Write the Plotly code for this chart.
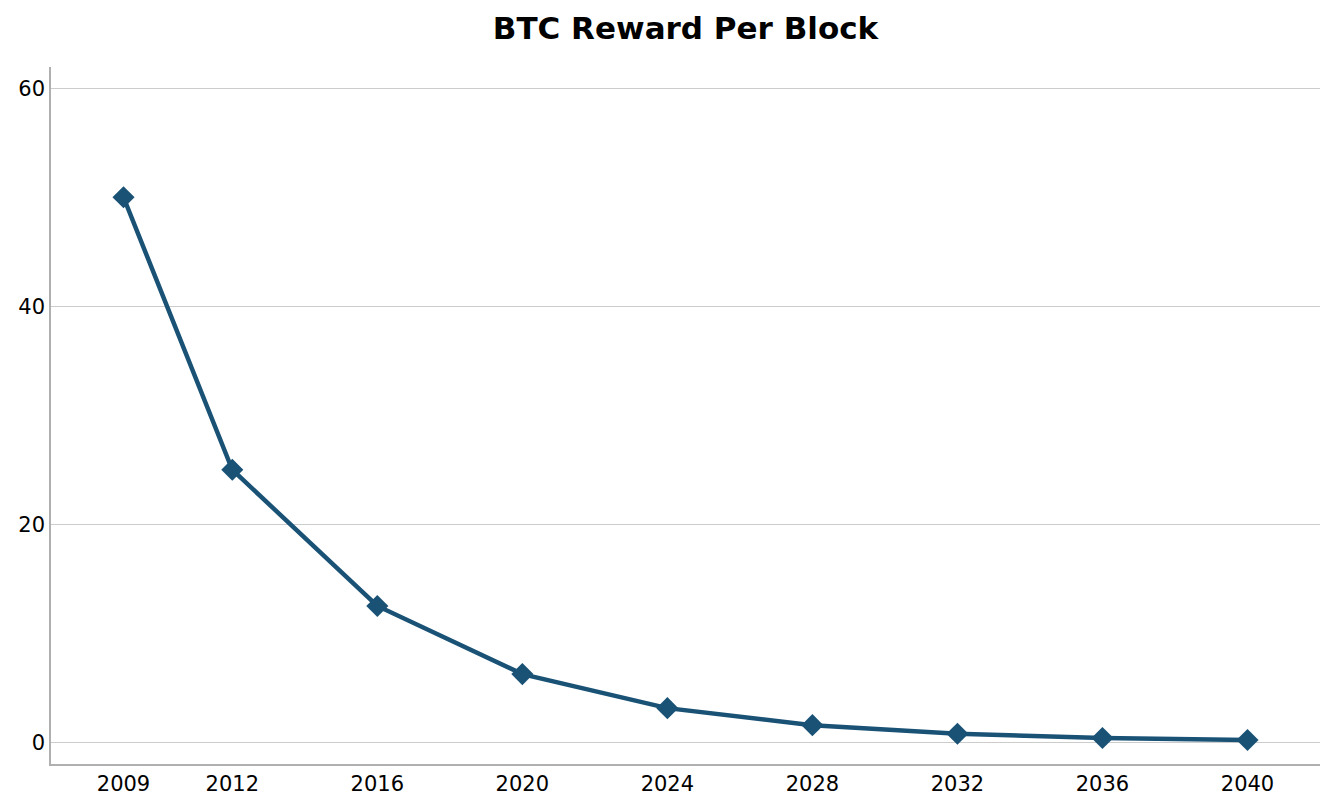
import plotly.graph_objects as go

years = [2009, 2012, 2016, 2020, 2024, 2028, 2032, 2036, 2040]
reward = [50, 25, 12.5, 6.25, 3.125, 1.5625, 0.78125, 0.390625, 0.1953125]
x_ticks = [2009, 2012, 2016, 2020, 2024, 2028, 2032, 2036, 2040]
y_ticks = [0, 20, 40, 60]

fig = go.Figure(go.Scatter(
    x=years, y=reward, mode="lines+markers",
    line=dict(color="#1a5276", width=4.5),
    marker=dict(symbol="diamond", size=17, color="#1a5276"),
))

font = "DejaVu Sans"
fig.update_layout(
    width=1335, height=809,
    margin=dict(l=51, r=15, t=67, b=45),
    plot_bgcolor="white", paper_bgcolor="white",
    showlegend=False,
    title=dict(text="<b>BTC Reward Per Block</b>", x=0.5, xref="paper", xanchor="center",
               y=1 - 28 / 809, yanchor="middle",
               font=dict(family=font, size=31, color="black")),
    font=dict(family=font, size=21, color="black"),
)
fig.update_xaxes(range=[2007.0, 2042.0], tickvals=x_ticks, ticktext=[str(t) for t in x_ticks],
                 showgrid=False, zeroline=False, showline=True, linecolor="#b0b0b0",
                 linewidth=1.5, ticks="", ticklen=0,
                 tickfont=dict(family=font, size=21, color="black"))
fig.update_yaxes(range=[-2.0, 61.95], tickvals=y_ticks, showgrid=True, gridcolor="#cccccc",
                 gridwidth=1.2, zeroline=False, showline=True, linecolor="#b0b0b0",
                 linewidth=1.5, ticks="", ticklen=0,
                 tickfont=dict(family=font, size=21, color="black"))

fig.write_html("out.html", config={"displayModeBar": False},
               post_script="document.body.style.margin='0';document.body.style.overflow='hidden';")
